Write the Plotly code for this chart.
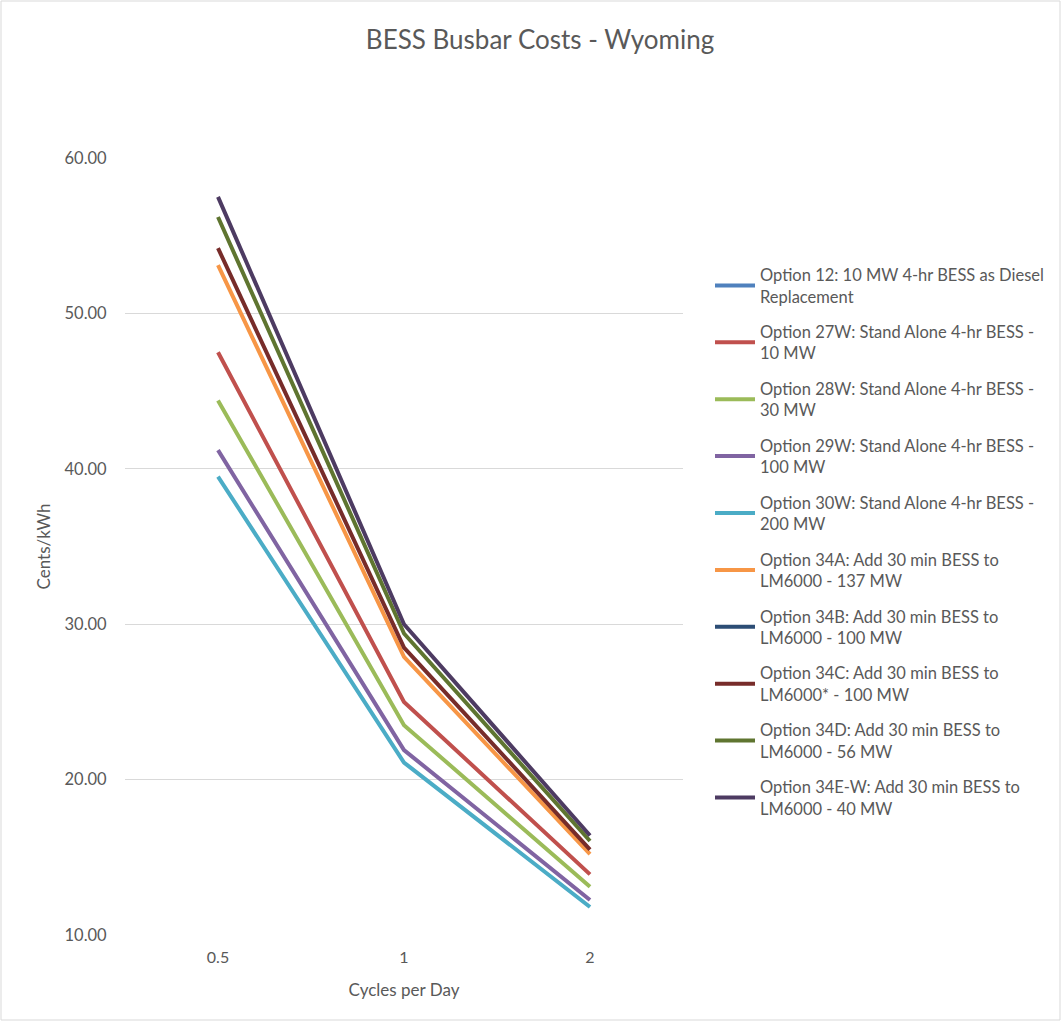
import plotly.graph_objects as go

cycles = ["0.5", "1", "2"]

names = [
    "Option 12: 10 MW 4-hr BESS as Diesel<br>Replacement",
    "Option 27W: Stand Alone 4-hr BESS -<br>10 MW",
    "Option 28W: Stand Alone 4-hr BESS -<br>30 MW",
    "Option 29W: Stand Alone 4-hr BESS -<br>100 MW",
    "Option 30W: Stand Alone 4-hr BESS -<br>200 MW",
    "Option 34A: Add 30 min BESS to<br>LM6000 - 137 MW",
    "Option 34B: Add 30 min BESS to<br>LM6000 - 100 MW",
    "Option 34C: Add 30 min BESS to<br>LM6000* - 100 MW",
    "Option 34D: Add 30 min BESS to<br>LM6000 - 56 MW",
    "Option 34E-W: Add 30 min BESS to<br>LM6000 - 40 MW",
]

opt_12 = [None, None, None]
opt_27w = [47.5, 25.0, 13.9]
opt_28w = [44.4, 23.5, 13.1]
opt_29w = [41.2, 21.9, 12.25]
opt_30w = [39.5, 21.1, 11.8]
opt_34a = [53.1, 27.9, 15.2]
opt_34b = [None, None, None]
opt_34c = [54.2, 28.5, 15.5]
opt_34d = [56.2, 29.4, 16.05]
opt_34ew = [57.5, 30.0, 16.4]

series = [opt_12, opt_27w, opt_28w, opt_29w, opt_30w,
          opt_34a, opt_34b, opt_34c, opt_34d, opt_34ew]

colors = ["#4F81BD", "#C0504D", "#9BBB59", "#8064A2", "#4BACC6",
          "#F79646", "#2C4D75", "#772C2A", "#5F7530", "#4D3B62"]

y_ticks = [10, 20, 30, 40, 50, 60]

fig = go.Figure()
for i, (name, vals, col) in enumerate(zip(names, series, colors)):
    fig.add_trace(go.Scatter(
        x=cycles, y=vals, name=name, mode="lines",
        line=dict(color=col, width=4),
        legendgroup=f"g{i}",
    ))

text_col = "#595959"
plot_w = 558
fig.update_layout(
    width=1062, height=1023,
    paper_bgcolor="white", plot_bgcolor="white",
    font=dict(family="Lato, Open Sans, sans-serif", color=text_col, size=16),
    margin=dict(l=125, r=379, t=158, b=88),
    title=dict(text="BESS Busbar Costs - Wyoming", x=540 / 1062, xanchor="center",
               y=1 - 40 / 1023, yanchor="middle",
               font=dict(size=26, color=text_col)),
    showlegend=True,
    legend=dict(x=(710 - 125) / plot_w, y=0.872, xanchor="left", yanchor="top",
                font=dict(size=16.5, color=text_col),
                tracegroupgap=11, itemwidth=40,
                bgcolor="rgba(0,0,0,0)"),
    xaxis=dict(type="category", range=[-0.5, 2.5], showgrid=False,
               showline=False, ticks="outside", ticklen=8, tickcolor="rgba(0,0,0,0)",
               tickfont=dict(size=16, color=text_col),
               title=dict(text="Cycles per Day", font=dict(size=17, color=text_col),
                          standoff=18)),
    yaxis=dict(range=[10, 60], tickvals=y_ticks, tickformat=".2f",
               showgrid=True, gridcolor="#D9D9D9", gridwidth=1,
               zeroline=False, showline=False,
               ticks="outside", ticklen=14, tickcolor="rgba(0,0,0,0)",
               tickfont=dict(size=16.5, color=text_col),
               title=dict(text="Cents/kWh", font=dict(size=17, color=text_col),
                          standoff=9)),
    shapes=[dict(type="rect", xref="paper", yref="paper",
                 x0=-124 / plot_w, x1=(1060 - 125) / plot_w,
                 y0=-(1020 - 935) / 777, y1=1 + 157 / 777,
                 line=dict(color="#D9D9D9", width=1), layer="below")],
)

fig.write_html("out.html")
